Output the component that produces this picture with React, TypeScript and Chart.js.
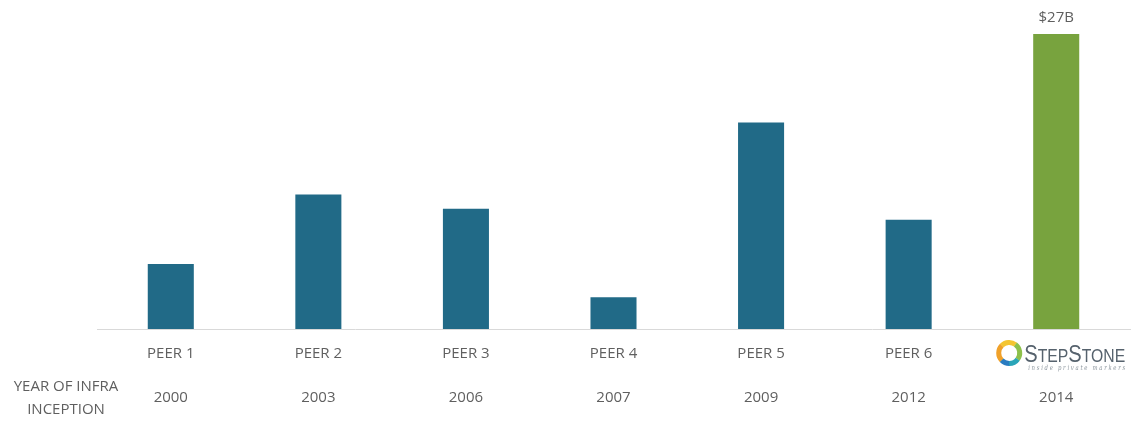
import React, { useEffect, useRef } from "react";
import { Chart, registerables } from "chart.js";

Chart.register(...registerables);

const categories = ["PEER 1", "PEER 2", "PEER 3", "PEER 4", "PEER 5", "PEER 6", "STEPSTONE"];
const inceptionYears = ["2000", "2003", "2006", "2007", "2009", "2012", "2014"];
const aumValues = [5.95, 12.3, 11.0, 2.9, 18.9, 10.0, 27];
const barColors = ["#216a87", "#216a87", "#216a87", "#216a87", "#216a87", "#216a87", "#78a33e"];
const valueLabels = ["", "", "", "", "", "", "$27B"];
const rowLabel = ["YEAR OF INFRA", "INCEPTION"];

const TEXT = "#5f5f5f";
const FONT = "'Open Sans', 'Liberation Sans', sans-serif";

const overlay = {
  id: "overlay",
  afterDraw(chart: any) {
    const ctx = chart.ctx;
    const xs = chart.scales.x;
    const meta = chart.getDatasetMeta(0);
    ctx.save();
    // value label
    ctx.fillStyle = TEXT;
    ctx.font = `15px ${FONT}`;
    ctx.textAlign = "center";
    ctx.textBaseline = "middle";
    meta.data.forEach((bar: any, i: number) => {
      if (valueLabels[i]) ctx.fillText(valueLabels[i], bar.x, bar.y - 16);
    });
    // row label on left
    const lx = chart.chartArea.left - 31;
    ctx.fillText(rowLabel[0], lx, 387);
    ctx.fillText(rowLabel[1], lx, 410);

    // StepStone logo in place of last category label
    const cx = xs.getPixelForValue(categories.length - 1);
    const ry = 353;
    const rx = cx - 47;
    const segs = [
      ["#f0a12a", Math.PI * 0.75, Math.PI * 1.25],
      ["#f4c531", Math.PI * 1.25, Math.PI * 1.7],
      ["#8dc04a", Math.PI * 1.7, Math.PI * 2.2],
      ["#2aa5b8", Math.PI * 0.2, Math.PI * 0.5],
      ["#2a7cc0", Math.PI * 0.5, Math.PI * 0.75],
    ];
    ctx.lineWidth = 5;
    segs.forEach(([c, a0, a1]: any) => {
      ctx.beginPath();
      ctx.strokeStyle = c;
      ctx.arc(rx, ry, 10.5, a0, a1 + 0.02);
      ctx.stroke();
    });
    ctx.fillStyle = "#56626d";
    ctx.textAlign = "left";
    ctx.textBaseline = "alphabetic";
    const parts: [string, number][] = [["S", 23], ["TEP", 18], ["S", 23], ["TONE", 18]];
    let total = 0;
    parts.forEach(([t, s]) => {
      ctx.font = `${s}px 'Liberation Sans', sans-serif`;
      total += ctx.measureText(t).width;
    });
    const targetW = 101;
    const sx = targetW / total;
    ctx.save();
    ctx.translate(rx + 15, 362);
    ctx.scale(sx, 1);
    let x = 0;
    parts.forEach(([t, s]) => {
      ctx.font = `${s}px 'Liberation Sans', sans-serif`;
      ctx.fillText(t, x, 0);
      x += ctx.measureText(t).width;
    });
    ctx.restore();
    ctx.font = `italic 7px 'DejaVu Serif', serif`;
    ctx.fillStyle = "#8a949c";
    const sub = "i n s i d e   p r i v a t e   m a r k e r s";
    const sw = ctx.measureText(sub).width;
    ctx.save();
    ctx.translate(rx + 19, 369.5);
    ctx.scale(97 / sw, 1);
    ctx.fillText(sub, 0, 0);
    ctx.restore();
    ctx.restore();
  },
};

export default function App() {
  const ref = useRef<HTMLCanvasElement | null>(null);
  useEffect(() => {
    if (!ref.current) return;
    const chart = new Chart(ref.current, {
      type: "bar",
      data: {
        labels: categories.map((c, i) => [c === "STEPSTONE" ? "" : c, inceptionYears[i]]),
        datasets: [
          {
            data: aumValues,
            backgroundColor: barColors,
            categoryPercentage: 1,
            barPercentage: 0.312,
          },
        ],
      },
      options: {
        animation: false,
        responsive: false,
        layout: { padding: { left: 97, right: 8, top: 23, bottom: 0 } },
        plugins: { legend: { display: false }, tooltip: { enabled: false } },
        scales: {
          x: {
            grid: { display: false, drawTicks: false },
            border: { display: true, color: "#d9d9d9", width: 1 },
            ticks: {
              color: TEXT,
              font: { family: FONT, size: 15, lineHeight: 44 / 15 },
              padding: 3,
              maxRotation: 0,
              autoSkip: false,
            },
            afterFit: (s: any) => {
              s.height = 92;
            },
          },
          y: {
            display: false,
            min: 0,
            max: 28,
          },
        },
      },
      plugins: [overlay],
    });
    return () => chart.destroy();
  }, []);
  return (
    <div style={{ position: "fixed", left: 0, top: 0, width: 1138, height: 421, background: "#fff" }}>
      <canvas ref={ref} width={1138} height={421} />
    </div>
  );
}
